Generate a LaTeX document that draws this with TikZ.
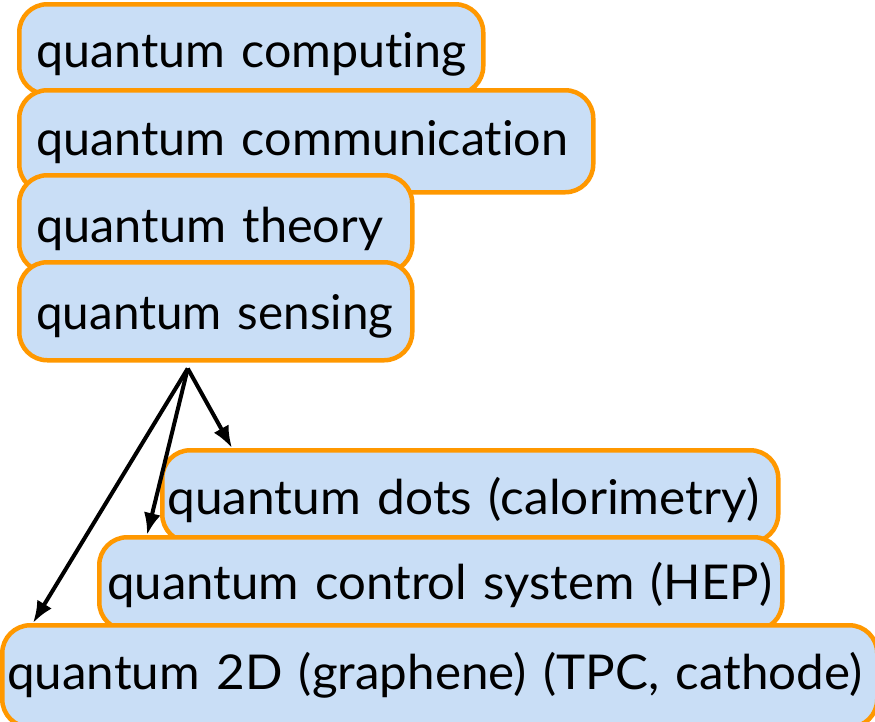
\documentclass[tikz,border=0pt]{standalone}
\usepackage{fontspec}
\setmainfont[Ligatures=NoCommon]{Lato}
\usepackage{graphicx}
\usetikzlibrary{arrows.meta}
\definecolor{qblue}{RGB}{201,222,246}
\definecolor{qorange}{RGB}{255,152,0}
% squeeze a label to a given width, keep its height
\newcommand\fitw[2]{\resizebox{#1}{\height}{#2}}

\begin{document}
\begin{tikzpicture}[x=1pt, y=-1pt]
  \tikzstyle{area} = [rectangle, draw=qorange, line width=4.5pt, fill=qblue, rounded corners=28pt, anchor=north west, align=left, inner ysep=0pt, inner xsep=17pt, text height=36pt, text depth=0pt, font=\fontsize{48}{50}\selectfont]
  \tikzstyle{link} = [-{Latex[length=22pt,width=17pt]}, line width=4pt]

  \clip (0,0) rectangle (875,721);

  \node [area, text width=430pt, minimum height=90pt] (comp) at (17,2) {\fitw{430pt}{quantum computing}};
  \node [area, text width=540pt, minimum height=102pt, text height=28pt] (comm) at (17,88) {\fitw{532pt}{quantum communication}};
  \node [area, text width=359pt, minimum height=97pt, text height=37pt] (theo) at (17,173) {\fitw{347pt}{quantum theory}};
  \node [area, text width=359pt, minimum height=98pt] (sens) at (17,260) {\fitw{357pt}{quantum sensing}};

  \node [area, inner xsep=5pt, text width=606pt, minimum height=92pt] (dots) at (160,448) {\fitw{592pt}{quantum dots (calorimetry)}};
  \node [area, inner xsep=8pt, text width=667pt, minimum height=93pt, text height=31pt] (ctrl) at (97,535) {\fitw{665pt}{quantum control system (HEP)}};
  \node [area, inner xsep=5pt, text width=865pt, minimum height=102pt, text height=26pt] (twod) at (0,623) {\fitw{855pt}{quantum 2D (graphene) (TPC, cathode)}};

  \draw[link] ([xshift=-28pt, yshift=-6pt]sens.south) -- ([xshift=72pt]dots.north west);
  \draw[link] ([xshift=-28pt, yshift=-6pt]sens.south) -- ([xshift=50pt]ctrl.north west);
  \draw[link] ([xshift=-28pt, yshift=-6pt]sens.south) -- ([xshift=33pt]twod.north west);
\end{tikzpicture}
\end{document}
